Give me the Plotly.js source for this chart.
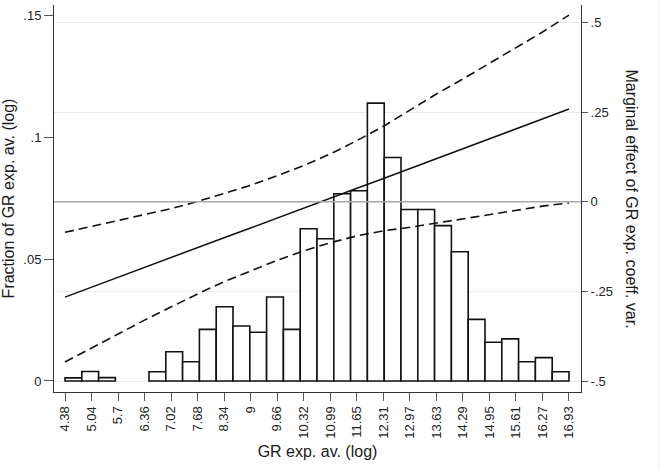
<!DOCTYPE html>
<html>
<head>
<meta charset="utf-8">
<script src="https://cdn.plot.ly/plotly-3.0.1.min.js"></script>
<style>
  html, body { margin: 0; padding: 0; background: #ffffff; }
  #chart { width: 663px; height: 469px; }
</style>
</head>
<body>
<div id="chart"></div>
<script>
// Histogram of GR exp. av. (log): 30 equal-width bins starting at 4.38
const binStart = 4.38;
const binWidth = 0.41833;
const fractions = [
  0.0013, 0.0039, 0.0014, null, null,
  0.0038, 0.0120, 0.0079, 0.0212, 0.0305,
  0.0226, 0.0200, 0.0345, 0.0212, 0.0625,
  0.0584, 0.0769, 0.0781, 0.1141, 0.0918,
  0.0704, 0.0704, 0.0638, 0.0531, 0.0253,
  0.0159, 0.0173, 0.0079, 0.0096, 0.0038
];

// x-axis labels (also the points where the marginal effect is evaluated)
const xLabels = ['4.38', '5.04', '5.7', '6.36', '7.02', '7.68', '8.34', '9', '9.66', '10.32',
                 '10.99', '11.65', '12.31', '12.97', '13.63', '14.29', '14.95', '15.61', '16.27', '16.93'];

// Marginal effect of GR exp. coeff. var. with its confidence bounds
const marginalEffect = [-0.266, -0.238, -0.211, -0.183, -0.156, -0.128, -0.100, -0.073, -0.045, -0.018,
                        0.010, 0.038, 0.065, 0.093, 0.121, 0.148, 0.176, 0.203, 0.231, 0.259];
const upperBound = [-0.085, -0.069, -0.053, -0.036, -0.019, 0.001, 0.023, 0.046, 0.073, 0.101,
                    0.134, 0.171, 0.211, 0.257, 0.301, 0.343, 0.387, 0.429, 0.474, 0.521];
const lowerBound = [-0.447, -0.407, -0.369, -0.330, -0.293, -0.257, -0.223, -0.192, -0.163, -0.137,
                    -0.114, -0.095, -0.081, -0.071, -0.059, -0.047, -0.035, -0.023, -0.012, -0.003];

// Left and right axis labels
const leftTicks = [0, 0.05, 0.1, 0.15];
const leftLabels = ['0', '.05', '.1', '.15'];
const rightTicks = [-0.5, -0.25, 0, 0.25, 0.5];
const rightLabels = ['-.5', '-.25', '0', '.25', '.5'];

const xVals = xLabels.map(Number);
const binCenters = fractions.map((_, i) => binStart + (i + 0.5) * binWidth);

const FONT = 'Arial, "Liberation Sans", sans-serif';
const INK = '#111111';

const traces = [
  {
    type: 'bar',
    x: binCenters,
    y: fractions,
    width: binWidth,
    marker: { color: '#ffffff', line: { color: INK, width: 1.6 } },
    yaxis: 'y',
    hoverinfo: 'skip'
  },
  {
    type: 'scatter', mode: 'lines',
    x: xVals, y: upperBound, yaxis: 'y2',
    line: { color: INK, width: 1.6, dash: '9px,5px' }
  },
  {
    type: 'scatter', mode: 'lines',
    x: xVals, y: lowerBound, yaxis: 'y2',
    line: { color: INK, width: 1.6, dash: '9px,5px' }
  },
  {
    type: 'scatter', mode: 'lines',
    x: xVals, y: marginalEffect, yaxis: 'y2',
    line: { color: INK, width: 1.5 }
  }
];

const layout = {
  width: 663,
  height: 469,
  margin: { l: 54, r: 82, t: 5, b: 77 },
  paper_bgcolor: '#ffffff',
  plot_bgcolor: '#ffffff',
  showlegend: false,
  font: { family: FONT, color: '#1a1a1a' },
  xaxis: {
    range: [4.106, 17.229],
    tickmode: 'array',
    tickvals: xVals,
    ticktext: xLabels,
    tickangle: -90,
    ticks: 'outside', ticklen: 8, tickwidth: 1, tickcolor: '#555555',
    tickfont: { family: FONT, size: 13, color: '#222222' },
    showline: true, linecolor: '#333333', linewidth: 1,
    showgrid: false, zeroline: false,
    title: { text: 'GR exp. av. (log)', font: { family: FONT, size: 16, color: '#1a1a1a' }, standoff: 8 }
  },
  yaxis: {
    range: [-0.00452, 0.1544],
    tickmode: 'array',
    tickvals: leftTicks,
    ticktext: leftLabels,
    ticks: 'outside', ticklen: 9, tickwidth: 1, tickcolor: '#555555',
    tickfont: { family: FONT, size: 13, color: '#222222' },
    showline: true, linecolor: '#333333', linewidth: 1,
    showgrid: false, zeroline: false,
    title: { text: 'Fraction of GR exp. av. (log)', font: { family: FONT, size: 16, color: '#1a1a1a' }, standoff: 4 }
  },
  yaxis2: {
    overlaying: 'y',
    side: 'right',
    range: [-0.5307, 0.5494],
    tickmode: 'array',
    tickvals: rightTicks,
    ticktext: rightLabels,
    ticks: 'outside', ticklen: 6, tickwidth: 1, tickcolor: '#555555',
    tickfont: { family: FONT, size: 13, color: '#222222' },
    showline: true, linecolor: '#333333', linewidth: 1,
    showgrid: true, gridcolor: '#ebebeb', gridwidth: 1,
    zeroline: false
  },
  shapes: [
    // reference line at zero marginal effect
    { type: 'line', xref: 'paper', x0: 0, x1: 1, yref: 'y2', y0: 0, y1: 0,
      line: { color: '#a8a8a8', width: 1.5 } },
    // faint outer border of the graph region
    { type: 'line', xref: 'paper', x0: 1.148, x1: 1.148, yref: 'paper', y0: -0.2, y1: 1.02,
      line: { color: '#ececec', width: 1 } }
  ],
  annotations: [
    {
      text: 'Marginal effect of GR exp. coeff. var.',
      xref: 'paper', yref: 'paper', x: 1.0949, y: 0.5,
      xanchor: 'center', yanchor: 'middle',
      showarrow: false, textangle: 90,
      font: { family: FONT, size: 16, color: '#1a1a1a' }
    }
  ]
};

Plotly.newPlot('chart', traces, layout, { displayModeBar: false, staticPlot: true });
</script>
</body>
</html>
